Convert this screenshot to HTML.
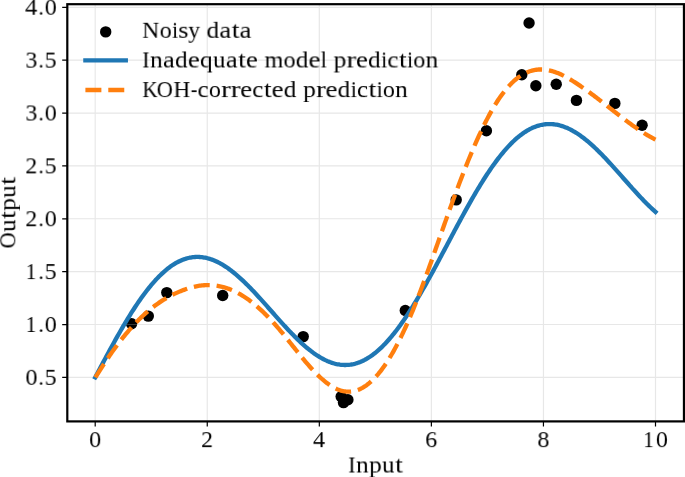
<!DOCTYPE html>
<html><head><meta charset="utf-8"><style>
html,body{margin:0;padding:0;background:#fff;}
body{width:685px;height:477px;overflow:hidden;font-family:"Liberation Serif",serif;}
svg{display:block;}
text{will-change:transform;}
</style></head><body>
<svg width="685" height="477" viewBox="0 0 685 477">
<rect x="0" y="0" width="685" height="477" fill="#ffffff"/>
<circle cx="131.57" cy="323.77" r="5.7" fill="#000"/>
<circle cx="148.30" cy="316.10" r="5.7" fill="#000"/>
<circle cx="166.80" cy="292.60" r="5.7" fill="#000"/>
<circle cx="222.70" cy="295.45" r="5.7" fill="#000"/>
<circle cx="303.20" cy="336.60" r="5.7" fill="#000"/>
<circle cx="341.20" cy="396.60" r="5.7" fill="#000"/>
<circle cx="347.90" cy="399.80" r="5.7" fill="#000"/>
<circle cx="343.50" cy="402.60" r="5.7" fill="#000"/>
<circle cx="405.30" cy="310.50" r="5.7" fill="#000"/>
<circle cx="456.20" cy="199.85" r="5.7" fill="#000"/>
<circle cx="486.40" cy="130.80" r="5.7" fill="#000"/>
<circle cx="521.80" cy="74.75" r="5.7" fill="#000"/>
<circle cx="529.07" cy="22.97" r="5.7" fill="#000"/>
<circle cx="535.85" cy="85.70" r="5.7" fill="#000"/>
<circle cx="556.25" cy="84.20" r="5.7" fill="#000"/>
<circle cx="576.45" cy="100.40" r="5.7" fill="#000"/>
<circle cx="614.85" cy="103.40" r="5.7" fill="#000"/>
<circle cx="642.10" cy="125.30" r="5.7" fill="#000"/>
<path d="M95.20 4.20V421.40M207.26 4.20V421.40M319.32 4.20V421.40M431.38 4.20V421.40M543.44 4.20V421.40M655.50 4.20V421.40M67.30 377.40H683.95M67.30 324.53H683.95M67.30 271.66H683.95M67.30 218.79H683.95M67.30 165.92H683.95M67.30 113.05H683.95M67.30 60.18H683.95M67.30 7.31H683.95" stroke="#b0b0b0" stroke-opacity="0.3" stroke-width="1.15" fill="none"/>
<path d="M95.20 377.40 L96.32 375.28 L97.45 373.16 L98.57 371.05 L99.69 368.93 L100.81 366.82 L101.94 364.71 L103.06 362.61 L104.18 360.51 L105.31 358.41 L106.43 356.32 L107.55 354.24 L108.67 352.17 L109.80 350.10 L110.92 348.04 L112.04 346.00 L113.17 343.96 L114.29 341.93 L115.41 339.91 L116.53 337.91 L117.66 335.92 L118.78 333.94 L119.90 331.98 L121.03 330.03 L122.15 328.09 L123.27 326.17 L124.39 324.27 L125.52 322.39 L126.64 320.52 L127.76 318.67 L128.89 316.84 L130.01 315.03 L131.13 313.23 L132.25 311.46 L133.38 309.71 L134.50 307.98 L135.62 306.27 L136.75 304.59 L137.87 302.92 L138.99 301.29 L140.11 299.67 L141.24 298.08 L142.36 296.51 L143.48 294.97 L144.61 293.46 L145.73 291.97 L146.85 290.51 L147.97 289.07 L149.10 287.67 L150.22 286.29 L151.34 284.94 L152.47 283.61 L153.59 282.32 L154.71 281.06 L155.83 279.82 L156.96 278.62 L158.08 277.44 L159.20 276.30 L160.33 275.19 L161.45 274.11 L162.57 273.06 L163.69 272.04 L164.82 271.05 L165.94 270.10 L167.06 269.17 L168.18 268.28 L169.31 267.43 L170.43 266.60 L171.55 265.81 L172.68 265.06 L173.80 264.33 L174.92 263.64 L176.04 262.98 L177.17 262.36 L178.29 261.77 L179.41 261.22 L180.54 260.70 L181.66 260.21 L182.78 259.75 L183.90 259.33 L185.03 258.95 L186.15 258.60 L187.27 258.28 L188.40 257.99 L189.52 257.74 L190.64 257.53 L191.76 257.34 L192.89 257.19 L194.01 257.08 L195.13 257.00 L196.26 256.95 L197.38 256.93 L198.50 256.95 L199.62 257.00 L200.75 257.08 L201.87 257.19 L202.99 257.34 L204.12 257.52 L205.24 257.73 L206.36 257.97 L207.48 258.24 L208.61 258.54 L209.73 258.88 L210.85 259.24 L211.98 259.64 L213.10 260.06 L214.22 260.51 L215.34 260.99 L216.47 261.50 L217.59 262.04 L218.71 262.61 L219.84 263.20 L220.96 263.82 L222.08 264.47 L223.20 265.14 L224.33 265.84 L225.45 266.57 L226.57 267.31 L227.70 268.09 L228.82 268.88 L229.94 269.70 L231.06 270.55 L232.19 271.41 L233.31 272.30 L234.43 273.21 L235.56 274.14 L236.68 275.09 L237.80 276.06 L238.92 277.04 L240.05 278.05 L241.17 279.08 L242.29 280.12 L243.42 281.18 L244.54 282.25 L245.66 283.34 L246.78 284.45 L247.91 285.57 L249.03 286.70 L250.15 287.85 L251.28 289.01 L252.40 290.18 L253.52 291.36 L254.64 292.55 L255.77 293.75 L256.89 294.97 L258.01 296.19 L259.14 297.42 L260.26 298.65 L261.38 299.89 L262.50 301.14 L263.63 302.39 L264.75 303.65 L265.87 304.91 L267.00 306.18 L268.12 307.45 L269.24 308.72 L270.36 309.99 L271.49 311.26 L272.61 312.53 L273.73 313.80 L274.86 315.07 L275.98 316.34 L277.10 317.60 L278.22 318.86 L279.35 320.12 L280.47 321.37 L281.59 322.61 L282.72 323.85 L283.84 325.08 L284.96 326.31 L286.08 327.53 L287.21 328.73 L288.33 329.93 L289.45 331.12 L290.58 332.30 L291.70 333.46 L292.82 334.62 L293.94 335.76 L295.07 336.88 L296.19 338.00 L297.31 339.09 L298.44 340.18 L299.56 341.25 L300.68 342.30 L301.80 343.33 L302.93 344.35 L304.05 345.34 L305.17 346.32 L306.29 347.28 L307.42 348.22 L308.54 349.14 L309.66 350.04 L310.79 350.92 L311.91 351.77 L313.03 352.61 L314.15 353.42 L315.28 354.20 L316.40 354.96 L317.52 355.70 L318.65 356.41 L319.77 357.10 L320.89 357.76 L322.01 358.39 L323.14 359.00 L324.26 359.58 L325.38 360.14 L326.51 360.66 L327.63 361.16 L328.75 361.63 L329.87 362.07 L331.00 362.48 L332.12 362.86 L333.24 363.20 L334.37 363.52 L335.49 363.81 L336.61 364.07 L337.73 364.30 L338.86 364.49 L339.98 364.66 L341.10 364.79 L342.23 364.89 L343.35 364.95 L344.47 364.99 L345.59 364.99 L346.72 364.96 L347.84 364.89 L348.96 364.79 L350.09 364.66 L351.21 364.50 L352.33 364.30 L353.45 364.07 L354.58 363.80 L355.70 363.50 L356.82 363.17 L357.95 362.80 L359.07 362.40 L360.19 361.96 L361.31 361.49 L362.44 360.99 L363.56 360.45 L364.68 359.88 L365.81 359.27 L366.93 358.63 L368.05 357.96 L369.17 357.26 L370.30 356.52 L371.42 355.74 L372.54 354.94 L373.67 354.10 L374.79 353.23 L375.91 352.32 L377.03 351.38 L378.16 350.41 L379.28 349.41 L380.40 348.38 L381.53 347.31 L382.65 346.22 L383.77 345.09 L384.89 343.93 L386.02 342.74 L387.14 341.53 L388.26 340.28 L389.39 339.00 L390.51 337.69 L391.63 336.36 L392.75 334.99 L393.88 333.60 L395.00 332.18 L396.12 330.73 L397.25 329.26 L398.37 327.76 L399.49 326.23 L400.61 324.68 L401.74 323.10 L402.86 321.50 L403.98 319.87 L405.11 318.22 L406.23 316.55 L407.35 314.85 L408.47 313.13 L409.60 311.39 L410.72 309.63 L411.84 307.85 L412.97 306.05 L414.09 304.23 L415.21 302.39 L416.33 300.53 L417.46 298.65 L418.58 296.76 L419.70 294.85 L420.83 292.92 L421.95 290.98 L423.07 289.03 L424.19 287.06 L425.32 285.07 L426.44 283.07 L427.56 281.06 L428.69 279.04 L429.81 277.01 L430.93 274.97 L432.05 272.92 L433.18 270.85 L434.30 268.78 L435.42 266.71 L436.55 264.62 L437.67 262.53 L438.79 260.43 L439.91 258.33 L441.04 256.22 L442.16 254.11 L443.28 252.00 L444.41 249.88 L445.53 247.77 L446.65 245.65 L447.77 243.53 L448.90 241.41 L450.02 239.29 L451.14 237.18 L452.26 235.06 L453.39 232.95 L454.51 230.85 L455.63 228.74 L456.76 226.65 L457.88 224.55 L459.00 222.47 L460.12 220.39 L461.25 218.32 L462.37 216.26 L463.49 214.20 L464.62 212.16 L465.74 210.13 L466.86 208.11 L467.98 206.10 L469.11 204.10 L470.23 202.11 L471.35 200.14 L472.48 198.18 L473.60 196.24 L474.72 194.31 L475.84 192.40 L476.97 190.51 L478.09 188.63 L479.21 186.77 L480.34 184.93 L481.46 183.11 L482.58 181.31 L483.70 179.52 L484.83 177.76 L485.95 176.02 L487.07 174.30 L488.20 172.60 L489.32 170.93 L490.44 169.28 L491.56 167.65 L492.69 166.04 L493.81 164.47 L494.93 162.91 L496.06 161.38 L497.18 159.88 L498.30 158.40 L499.42 156.96 L500.55 155.53 L501.67 154.14 L502.79 152.77 L503.92 151.44 L505.04 150.13 L506.16 148.85 L507.28 147.60 L508.41 146.38 L509.53 145.19 L510.65 144.03 L511.78 142.90 L512.90 141.80 L514.02 140.73 L515.14 139.70 L516.27 138.69 L517.39 137.72 L518.51 136.78 L519.64 135.88 L520.76 135.00 L521.88 134.16 L523.00 133.35 L524.13 132.58 L525.25 131.84 L526.37 131.13 L527.50 130.45 L528.62 129.81 L529.74 129.20 L530.86 128.63 L531.99 128.09 L533.11 127.59 L534.23 127.11 L535.36 126.68 L536.48 126.27 L537.60 125.90 L538.72 125.57 L539.85 125.26 L540.97 125.00 L542.09 124.76 L543.22 124.56 L544.34 124.39 L545.46 124.26 L546.58 124.16 L547.71 124.09 L548.83 124.06 L549.95 124.06 L551.08 124.09 L552.20 124.15 L553.32 124.25 L554.44 124.38 L555.57 124.54 L556.69 124.74 L557.81 124.96 L558.94 125.22 L560.06 125.50 L561.18 125.82 L562.30 126.17 L563.43 126.55 L564.55 126.95 L565.67 127.39 L566.80 127.86 L567.92 128.35 L569.04 128.88 L570.16 129.43 L571.29 130.01 L572.41 130.61 L573.53 131.25 L574.66 131.91 L575.78 132.59 L576.90 133.30 L578.02 134.04 L579.15 134.80 L580.27 135.58 L581.39 136.39 L582.52 137.22 L583.64 138.07 L584.76 138.95 L585.88 139.85 L587.01 140.77 L588.13 141.70 L589.25 142.66 L590.37 143.64 L591.50 144.64 L592.62 145.65 L593.74 146.69 L594.87 147.74 L595.99 148.80 L597.11 149.88 L598.23 150.98 L599.36 152.09 L600.48 153.22 L601.60 154.36 L602.73 155.51 L603.85 156.68 L604.97 157.85 L606.09 159.04 L607.22 160.24 L608.34 161.45 L609.46 162.66 L610.59 163.89 L611.71 165.12 L612.83 166.36 L613.95 167.60 L615.08 168.85 L616.20 170.11 L617.32 171.37 L618.45 172.63 L619.57 173.90 L620.69 175.17 L621.81 176.44 L622.94 177.71 L624.06 178.98 L625.18 180.25 L626.31 181.52 L627.43 182.79 L628.55 184.05 L629.67 185.32 L630.80 186.57 L631.92 187.83 L633.04 189.08 L634.17 190.32 L635.29 191.55 L636.41 192.78 L637.53 194.00 L638.66 195.22 L639.78 196.42 L640.90 197.61 L642.03 198.80 L643.15 199.97 L644.27 201.13 L645.39 202.28 L646.52 203.41 L647.64 204.53 L648.76 205.64 L649.89 206.73 L651.01 207.80 L652.13 208.86 L653.25 209.91 L654.38 210.93 L655.50 211.94" stroke="#1f77b4" stroke-width="4.319" fill="none" stroke-linecap="square" stroke-linejoin="round"/>
<path d="M95.20 377.78 L96.32 375.95 L97.45 374.15 L98.57 372.36 L99.69 370.58 L100.81 368.82 L101.94 367.08 L103.06 365.35 L104.18 363.64 L105.31 361.95 L106.43 360.27 L107.55 358.61 L108.67 356.96 L109.80 355.34 L110.92 353.73 L112.04 352.13 L113.17 350.56 L114.29 349.00 L115.41 347.46 L116.53 345.94 L117.66 344.44 L118.78 342.96 L119.90 341.49 L121.03 340.04 L122.15 338.62 L123.27 337.21 L124.39 335.82 L125.52 334.45 L126.64 333.10 L127.76 331.77 L128.89 330.46 L130.01 329.17 L131.13 327.90 L132.25 326.65 L133.38 325.41 L134.50 324.20 L135.62 323.01 L136.75 321.84 L137.87 320.69 L138.99 319.56 L140.11 318.45 L141.24 317.36 L142.36 316.29 L143.48 315.24 L144.61 314.21 L145.73 313.20 L146.85 312.21 L147.97 311.24 L149.10 310.29 L150.22 309.36 L151.34 308.45 L152.47 307.56 L153.59 306.69 L154.71 305.84 L155.83 305.01 L156.96 304.20 L158.08 303.40 L159.20 302.63 L160.33 301.87 L161.45 301.14 L162.57 300.42 L163.69 299.71 L164.82 299.03 L165.94 298.37 L167.06 297.72 L168.18 297.09 L169.31 296.47 L170.43 295.87 L171.55 295.29 L172.68 294.72 L173.80 294.17 L174.92 293.64 L176.04 293.12 L177.17 292.61 L178.29 292.12 L179.41 291.64 L180.54 291.17 L181.66 290.72 L182.78 290.28 L183.90 289.86 L185.03 289.45 L186.15 289.06 L187.27 288.68 L188.40 288.32 L189.52 287.98 L190.64 287.66 L191.76 287.35 L192.89 287.06 L194.01 286.79 L195.13 286.54 L196.26 286.31 L197.38 286.09 L198.50 285.90 L199.62 285.73 L200.75 285.57 L201.87 285.44 L202.99 285.33 L204.12 285.24 L205.24 285.17 L206.36 285.12 L207.48 285.09 L208.61 285.09 L209.73 285.11 L210.85 285.15 L211.98 285.21 L213.10 285.29 L214.22 285.40 L215.34 285.53 L216.47 285.68 L217.59 285.86 L218.71 286.06 L219.84 286.28 L220.96 286.52 L222.08 286.79 L223.20 287.08 L224.33 287.39 L225.45 287.73 L226.57 288.09 L227.70 288.48 L228.82 288.88 L229.94 289.31 L231.06 289.77 L232.19 290.24 L233.31 290.74 L234.43 291.27 L235.56 291.81 L236.68 292.38 L237.80 292.97 L238.92 293.58 L240.05 294.22 L241.17 294.88 L242.29 295.56 L243.42 296.26 L244.54 296.99 L245.66 297.73 L246.78 298.50 L247.91 299.29 L249.03 300.10 L250.15 300.94 L251.28 301.79 L252.40 302.67 L253.52 303.56 L254.64 304.48 L255.77 305.41 L256.89 306.37 L258.01 307.35 L259.14 308.35 L260.26 309.36 L261.38 310.40 L262.50 311.45 L263.63 312.53 L264.75 313.62 L265.87 314.73 L267.00 315.86 L268.12 317.01 L269.24 318.18 L270.36 319.36 L271.49 320.56 L272.61 321.78 L273.73 323.02 L274.86 324.27 L275.98 325.54 L277.10 326.82 L278.22 328.13 L279.35 329.44 L280.47 330.78 L281.59 332.12 L282.72 333.48 L283.84 334.85 L284.96 336.23 L286.08 337.62 L287.21 339.02 L288.33 340.42 L289.45 341.82 L290.58 343.23 L291.70 344.64 L292.82 346.05 L293.94 347.46 L295.07 348.87 L296.19 350.28 L297.31 351.68 L298.44 353.08 L299.56 354.47 L300.68 355.85 L301.80 357.22 L302.93 358.58 L304.05 359.93 L305.17 361.27 L306.29 362.59 L307.42 363.90 L308.54 365.19 L309.66 366.47 L310.79 367.72 L311.91 368.96 L313.03 370.17 L314.15 371.37 L315.28 372.54 L316.40 373.68 L317.52 374.80 L318.65 375.89 L319.77 376.96 L320.89 377.99 L322.01 379.00 L323.14 379.98 L324.26 380.92 L325.38 381.83 L326.51 382.71 L327.63 383.55 L328.75 384.36 L329.87 385.13 L331.00 385.86 L332.12 386.55 L333.24 387.20 L334.37 387.81 L335.49 388.38 L336.61 388.91 L337.73 389.39 L338.86 389.83 L339.98 390.23 L341.10 390.57 L342.23 390.87 L343.35 391.13 L344.47 391.33 L345.59 391.48 L346.72 391.59 L347.84 391.65 L348.96 391.65 L350.09 391.61 L351.21 391.52 L352.33 391.37 L353.45 391.18 L354.58 390.93 L355.70 390.64 L356.82 390.29 L357.95 389.90 L359.07 389.45 L360.19 388.95 L361.31 388.40 L362.44 387.80 L363.56 387.15 L364.68 386.45 L365.81 385.69 L366.93 384.89 L368.05 384.03 L369.17 383.13 L370.30 382.17 L371.42 381.16 L372.54 380.10 L373.67 379.00 L374.79 377.84 L375.91 376.63 L377.03 375.37 L378.16 374.06 L379.28 372.70 L380.40 371.29 L381.53 369.83 L382.65 368.32 L383.77 366.76 L384.89 365.16 L386.02 363.50 L387.14 361.80 L388.26 360.05 L389.39 358.25 L390.51 356.40 L391.63 354.51 L392.75 352.57 L393.88 350.58 L395.00 348.55 L396.12 346.47 L397.25 344.35 L398.37 342.18 L399.49 339.96 L400.61 337.70 L401.74 335.40 L402.86 333.05 L403.98 330.66 L405.11 328.23 L406.23 325.76 L407.35 323.24 L408.47 320.68 L409.60 318.08 L410.72 315.45 L411.84 312.77 L412.97 310.05 L414.09 307.29 L415.21 304.50 L416.33 301.67 L417.46 298.80 L418.58 295.91 L419.70 292.98 L420.83 290.02 L421.95 287.04 L423.07 284.03 L424.19 281.00 L425.32 277.94 L426.44 274.87 L427.56 271.77 L428.69 268.66 L429.81 265.54 L430.93 262.40 L432.05 259.24 L433.18 256.08 L434.30 252.91 L435.42 249.73 L436.55 246.55 L437.67 243.36 L438.79 240.18 L439.91 236.99 L441.04 233.80 L442.16 230.62 L443.28 227.45 L444.41 224.28 L445.53 221.12 L446.65 217.97 L447.77 214.83 L448.90 211.70 L450.02 208.59 L451.14 205.49 L452.26 202.41 L453.39 199.34 L454.51 196.29 L455.63 193.25 L456.76 190.24 L457.88 187.24 L459.00 184.26 L460.12 181.31 L461.25 178.38 L462.37 175.47 L463.49 172.58 L464.62 169.72 L465.74 166.89 L466.86 164.08 L467.98 161.30 L469.11 158.55 L470.23 155.83 L471.35 153.14 L472.48 150.48 L473.60 147.85 L474.72 145.26 L475.84 142.69 L476.97 140.17 L478.09 137.68 L479.21 135.22 L480.34 132.80 L481.46 130.42 L482.58 128.08 L483.70 125.78 L484.83 123.52 L485.95 121.30 L487.07 119.12 L488.20 116.98 L489.32 114.89 L490.44 112.84 L491.56 110.84 L492.69 108.88 L493.81 106.97 L494.93 105.11 L496.06 103.29 L497.18 101.52 L498.30 99.80 L499.42 98.13 L500.55 96.52 L501.67 94.95 L502.79 93.43 L503.92 91.96 L505.04 90.54 L506.16 89.17 L507.28 87.85 L508.41 86.58 L509.53 85.36 L510.65 84.18 L511.78 83.06 L512.90 81.98 L514.02 80.95 L515.14 79.97 L516.27 79.03 L517.39 78.14 L518.51 77.30 L519.64 76.50 L520.76 75.75 L521.88 75.04 L523.00 74.37 L524.13 73.76 L525.25 73.18 L526.37 72.65 L527.50 72.16 L528.62 71.71 L529.74 71.31 L530.86 70.95 L531.99 70.62 L533.11 70.34 L534.23 70.10 L535.36 69.90 L536.48 69.73 L537.60 69.61 L538.72 69.52 L539.85 69.47 L540.97 69.45 L542.09 69.47 L543.22 69.52 L544.34 69.61 L545.46 69.74 L546.58 69.89 L547.71 70.08 L548.83 70.30 L549.95 70.55 L551.08 70.83 L552.20 71.14 L553.32 71.48 L554.44 71.84 L555.57 72.23 L556.69 72.65 L557.81 73.10 L558.94 73.56 L560.06 74.05 L561.18 74.57 L562.30 75.11 L563.43 75.66 L564.55 76.24 L565.67 76.83 L566.80 77.45 L567.92 78.08 L569.04 78.73 L570.16 79.39 L571.29 80.07 L572.41 80.76 L573.53 81.46 L574.66 82.18 L575.78 82.90 L576.90 83.64 L578.02 84.38 L579.15 85.13 L580.27 85.89 L581.39 86.66 L582.52 87.44 L583.64 88.22 L584.76 89.01 L585.88 89.81 L587.01 90.62 L588.13 91.43 L589.25 92.25 L590.37 93.07 L591.50 93.91 L592.62 94.74 L593.74 95.58 L594.87 96.43 L595.99 97.28 L597.11 98.14 L598.23 99.00 L599.36 99.86 L600.48 100.73 L601.60 101.60 L602.73 102.48 L603.85 103.35 L604.97 104.23 L606.09 105.11 L607.22 105.99 L608.34 106.87 L609.46 107.75 L610.59 108.64 L611.71 109.52 L612.83 110.40 L613.95 111.28 L615.08 112.16 L616.20 113.04 L617.32 113.92 L618.45 114.79 L619.57 115.66 L620.69 116.53 L621.81 117.39 L622.94 118.25 L624.06 119.10 L625.18 119.95 L626.31 120.80 L627.43 121.64 L628.55 122.47 L629.67 123.29 L630.80 124.11 L631.92 124.92 L633.04 125.73 L634.17 126.53 L635.29 127.31 L636.41 128.09 L637.53 128.86 L638.66 129.62 L639.78 130.37 L640.90 131.11 L642.03 131.84 L643.15 132.56 L644.27 133.26 L645.39 133.96 L646.52 134.64 L647.64 135.31 L648.76 135.97 L649.89 136.61 L651.01 137.24 L652.13 137.86 L653.25 138.46 L654.38 139.05 L655.50 139.63" stroke="#ff7f0e" stroke-width="4.319" fill="none" stroke-dasharray="15.979 6.91" stroke-dashoffset="-0.4" stroke-linecap="butt" stroke-linejoin="round"/>
<path d="M95.20 421.40V426.50M207.26 421.40V426.50M319.32 421.40V426.50M431.38 421.40V426.50M543.44 421.40V426.50M655.50 421.40V426.50M67.30 377.40H62.20M67.30 324.53H62.20M67.30 271.66H62.20M67.30 218.79H62.20M67.30 165.92H62.20M67.30 113.05H62.20M67.30 60.18H62.20M67.30 7.31H62.20" stroke="#000" stroke-width="1.2" fill="none"/>
<rect x="67.30" y="4.20" width="616.65" height="417.20" fill="none" stroke="#000" stroke-width="2.2" stroke-linejoin="miter"/>
<g transform="translate(25.49,384.85) skewX(0.001)"><text x="0" y="0" font-family="Liberation Serif" font-size="22.5" textLength="12.01" lengthAdjust="spacingAndGlyphs">0</text></g>
<g transform="translate(38.37,384.85) skewX(0.001)"><text x="0" y="0" font-family="Liberation Serif" font-size="22.5" textLength="5.55" lengthAdjust="spacingAndGlyphs">.</text></g>
<g transform="translate(44.68,384.85) skewX(0.001)"><text x="0" y="0" font-family="Liberation Serif" font-size="22.5" textLength="11.89" lengthAdjust="spacingAndGlyphs">5</text></g>
<g transform="translate(25.66,331.98) skewX(0.001)"><text x="0" y="0" font-family="Liberation Serif" font-size="22.5" textLength="10.67" lengthAdjust="spacingAndGlyphs">1</text></g>
<g transform="translate(38.37,331.98) skewX(0.001)"><text x="0" y="0" font-family="Liberation Serif" font-size="22.5" textLength="5.55" lengthAdjust="spacingAndGlyphs">.</text></g>
<g transform="translate(44.76,331.98) skewX(0.001)"><text x="0" y="0" font-family="Liberation Serif" font-size="22.5" textLength="12.01" lengthAdjust="spacingAndGlyphs">0</text></g>
<g transform="translate(25.66,279.11) skewX(0.001)"><text x="0" y="0" font-family="Liberation Serif" font-size="22.5" textLength="10.67" lengthAdjust="spacingAndGlyphs">1</text></g>
<g transform="translate(38.37,279.11) skewX(0.001)"><text x="0" y="0" font-family="Liberation Serif" font-size="22.5" textLength="5.55" lengthAdjust="spacingAndGlyphs">.</text></g>
<g transform="translate(44.68,279.11) skewX(0.001)"><text x="0" y="0" font-family="Liberation Serif" font-size="22.5" textLength="11.89" lengthAdjust="spacingAndGlyphs">5</text></g>
<g transform="translate(25.41,226.24) skewX(0.001)"><text x="0" y="0" font-family="Liberation Serif" font-size="22.5" textLength="11.85" lengthAdjust="spacingAndGlyphs">2</text></g>
<g transform="translate(38.37,226.24) skewX(0.001)"><text x="0" y="0" font-family="Liberation Serif" font-size="22.5" textLength="5.55" lengthAdjust="spacingAndGlyphs">.</text></g>
<g transform="translate(44.76,226.24) skewX(0.001)"><text x="0" y="0" font-family="Liberation Serif" font-size="22.5" textLength="12.01" lengthAdjust="spacingAndGlyphs">0</text></g>
<g transform="translate(25.41,173.37) skewX(0.001)"><text x="0" y="0" font-family="Liberation Serif" font-size="22.5" textLength="11.85" lengthAdjust="spacingAndGlyphs">2</text></g>
<g transform="translate(38.37,173.37) skewX(0.001)"><text x="0" y="0" font-family="Liberation Serif" font-size="22.5" textLength="5.55" lengthAdjust="spacingAndGlyphs">.</text></g>
<g transform="translate(44.68,173.37) skewX(0.001)"><text x="0" y="0" font-family="Liberation Serif" font-size="22.5" textLength="11.89" lengthAdjust="spacingAndGlyphs">5</text></g>
<g transform="translate(25.48,120.50) skewX(0.001)"><text x="0" y="0" font-family="Liberation Serif" font-size="22.5" textLength="11.88" lengthAdjust="spacingAndGlyphs">3</text></g>
<g transform="translate(38.37,120.50) skewX(0.001)"><text x="0" y="0" font-family="Liberation Serif" font-size="22.5" textLength="5.55" lengthAdjust="spacingAndGlyphs">.</text></g>
<g transform="translate(44.76,120.50) skewX(0.001)"><text x="0" y="0" font-family="Liberation Serif" font-size="22.5" textLength="12.01" lengthAdjust="spacingAndGlyphs">0</text></g>
<g transform="translate(25.48,67.63) skewX(0.001)"><text x="0" y="0" font-family="Liberation Serif" font-size="22.5" textLength="11.88" lengthAdjust="spacingAndGlyphs">3</text></g>
<g transform="translate(38.37,67.63) skewX(0.001)"><text x="0" y="0" font-family="Liberation Serif" font-size="22.5" textLength="5.55" lengthAdjust="spacingAndGlyphs">.</text></g>
<g transform="translate(44.68,67.63) skewX(0.001)"><text x="0" y="0" font-family="Liberation Serif" font-size="22.5" textLength="11.89" lengthAdjust="spacingAndGlyphs">5</text></g>
<g transform="translate(25.23,14.76) skewX(0.001)"><text x="0" y="0" font-family="Liberation Serif" font-size="22.5" textLength="12.06" lengthAdjust="spacingAndGlyphs">4</text></g>
<g transform="translate(38.37,14.76) skewX(0.001)"><text x="0" y="0" font-family="Liberation Serif" font-size="22.5" textLength="5.55" lengthAdjust="spacingAndGlyphs">.</text></g>
<g transform="translate(44.76,14.76) skewX(0.001)"><text x="0" y="0" font-family="Liberation Serif" font-size="22.5" textLength="12.01" lengthAdjust="spacingAndGlyphs">0</text></g>
<g transform="translate(89.19,447.15) skewX(0.001)"><text x="0" y="0" font-family="Liberation Serif" font-size="22.5" textLength="12.01" lengthAdjust="spacingAndGlyphs">0</text></g>
<g transform="translate(201.16,447.15) skewX(0.001)"><text x="0" y="0" font-family="Liberation Serif" font-size="22.5" textLength="11.85" lengthAdjust="spacingAndGlyphs">2</text></g>
<g transform="translate(313.04,447.15) skewX(0.001)"><text x="0" y="0" font-family="Liberation Serif" font-size="22.5" textLength="12.06" lengthAdjust="spacingAndGlyphs">4</text></g>
<g transform="translate(425.28,447.15) skewX(0.001)"><text x="0" y="0" font-family="Liberation Serif" font-size="22.5" textLength="11.97" lengthAdjust="spacingAndGlyphs">6</text></g>
<g transform="translate(537.45,447.15) skewX(0.001)"><text x="0" y="0" font-family="Liberation Serif" font-size="22.5" textLength="11.96" lengthAdjust="spacingAndGlyphs">8</text></g>
<g transform="translate(643.24,447.15) skewX(0.001)"><text x="0" y="0" font-family="Liberation Serif" font-size="22.5" textLength="10.67" lengthAdjust="spacingAndGlyphs">1</text></g>
<g transform="translate(655.92,447.15) skewX(0.001)"><text x="0" y="0" font-family="Liberation Serif" font-size="22.5" textLength="12.01" lengthAdjust="spacingAndGlyphs">0</text></g>
<g transform="translate(348.25,472.50) skewX(0.001)"><text x="0" y="0" font-family="Liberation Serif" font-size="22.5" textLength="7.32" lengthAdjust="spacingAndGlyphs">I</text></g>
<g transform="translate(356.05,472.50) skewX(0.001)"><text x="0" y="0" font-family="Liberation Serif" font-size="22.5" textLength="12.68" lengthAdjust="spacingAndGlyphs">n</text></g>
<g transform="translate(369.09,472.50) skewX(0.001)"><text x="0" y="0" font-family="Liberation Serif" font-size="22.5" textLength="12.74" lengthAdjust="spacingAndGlyphs">p</text></g>
<g transform="translate(382.06,472.50) skewX(0.001)"><text x="0" y="0" font-family="Liberation Serif" font-size="22.5" textLength="12.47" lengthAdjust="spacingAndGlyphs">u</text></g>
<g transform="translate(395.16,472.50) skewX(0.001)"><text x="0" y="0" font-family="Liberation Serif" font-size="22.5" textLength="7.82" lengthAdjust="spacingAndGlyphs">t</text></g>
<g transform="translate(15.30,212.80) rotate(-90)"><g transform="translate(-35.65,0.00) skewX(0.001)"><text x="0" y="0" font-family="Liberation Serif" font-size="22.5" textLength="16.13" lengthAdjust="spacingAndGlyphs">O</text></g><g transform="translate(-19.10,0.00) skewX(0.001)"><text x="0" y="0" font-family="Liberation Serif" font-size="22.5" textLength="12.47" lengthAdjust="spacingAndGlyphs">u</text></g><g transform="translate(-6.00,0.00) skewX(0.001)"><text x="0" y="0" font-family="Liberation Serif" font-size="22.5" textLength="7.82" lengthAdjust="spacingAndGlyphs">t</text></g><g transform="translate(1.99,0.00) skewX(0.001)"><text x="0" y="0" font-family="Liberation Serif" font-size="22.5" textLength="12.74" lengthAdjust="spacingAndGlyphs">p</text></g><g transform="translate(14.96,0.00) skewX(0.001)"><text x="0" y="0" font-family="Liberation Serif" font-size="22.5" textLength="12.47" lengthAdjust="spacingAndGlyphs">u</text></g><g transform="translate(28.06,0.00) skewX(0.001)"><text x="0" y="0" font-family="Liberation Serif" font-size="22.5" textLength="7.82" lengthAdjust="spacingAndGlyphs">t</text></g></g>
<circle cx="105.7" cy="31.9" r="5.7" fill="#000"/>
<path d="M85.4 60.42H125.8" stroke="#1f77b4" stroke-width="4.319" stroke-linecap="square"/>
<path d="M85.4 90.0H125.8" stroke="#ff7f0e" stroke-width="4.319" stroke-dasharray="15.979 6.91" stroke-linecap="butt"/>
<g transform="translate(142.26,37.80) skewX(0.001)"><text x="0" y="0" font-family="Liberation Serif" font-size="22.5" textLength="17.02" lengthAdjust="spacingAndGlyphs">N</text></g>
<g transform="translate(159.72,37.80) skewX(0.001)"><text x="0" y="0" font-family="Liberation Serif" font-size="22.5" textLength="11.96" lengthAdjust="spacingAndGlyphs">o</text></g>
<g transform="translate(172.05,37.80) skewX(0.001)"><text x="0" y="0" font-family="Liberation Serif" font-size="22.5" textLength="6.15" lengthAdjust="spacingAndGlyphs">i</text></g>
<g transform="translate(178.30,37.80) skewX(0.001)"><text x="0" y="0" font-family="Liberation Serif" font-size="22.5" textLength="10.22" lengthAdjust="spacingAndGlyphs">s</text></g>
<g transform="translate(188.27,37.80) skewX(0.001)"><text x="0" y="0" font-family="Liberation Serif" font-size="22.5" textLength="11.79" lengthAdjust="spacingAndGlyphs">y</text></g>
<g transform="translate(206.55,37.80) skewX(0.001)"><text x="0" y="0" font-family="Liberation Serif" font-size="22.5" textLength="12.55" lengthAdjust="spacingAndGlyphs">d</text></g>
<g transform="translate(219.45,37.80) skewX(0.001)"><text x="0" y="0" font-family="Liberation Serif" font-size="22.5" textLength="11.76" lengthAdjust="spacingAndGlyphs">a</text></g>
<g transform="translate(231.73,37.80) skewX(0.001)"><text x="0" y="0" font-family="Liberation Serif" font-size="22.5" textLength="7.82" lengthAdjust="spacingAndGlyphs">t</text></g>
<g transform="translate(239.61,37.80) skewX(0.001)"><text x="0" y="0" font-family="Liberation Serif" font-size="22.5" textLength="11.76" lengthAdjust="spacingAndGlyphs">a</text></g>
<g transform="translate(142.27,67.45) skewX(0.001)"><text x="0" y="0" font-family="Liberation Serif" font-size="22.5" textLength="7.32" lengthAdjust="spacingAndGlyphs">I</text></g>
<g transform="translate(150.08,67.45) skewX(0.001)"><text x="0" y="0" font-family="Liberation Serif" font-size="22.5" textLength="12.68" lengthAdjust="spacingAndGlyphs">n</text></g>
<g transform="translate(163.01,67.45) skewX(0.001)"><text x="0" y="0" font-family="Liberation Serif" font-size="22.5" textLength="11.76" lengthAdjust="spacingAndGlyphs">a</text></g>
<g transform="translate(175.08,67.45) skewX(0.001)"><text x="0" y="0" font-family="Liberation Serif" font-size="22.5" textLength="12.55" lengthAdjust="spacingAndGlyphs">d</text></g>
<g transform="translate(187.87,67.45) skewX(0.001)"><text x="0" y="0" font-family="Liberation Serif" font-size="22.5" textLength="11.92" lengthAdjust="spacingAndGlyphs">e</text></g>
<g transform="translate(199.95,67.45) skewX(0.001)"><text x="0" y="0" font-family="Liberation Serif" font-size="22.5" textLength="12.71" lengthAdjust="spacingAndGlyphs">q</text></g>
<g transform="translate(213.01,67.45) skewX(0.001)"><text x="0" y="0" font-family="Liberation Serif" font-size="22.5" textLength="12.47" lengthAdjust="spacingAndGlyphs">u</text></g>
<g transform="translate(225.88,67.45) skewX(0.001)"><text x="0" y="0" font-family="Liberation Serif" font-size="22.5" textLength="11.76" lengthAdjust="spacingAndGlyphs">a</text></g>
<g transform="translate(238.16,67.45) skewX(0.001)"><text x="0" y="0" font-family="Liberation Serif" font-size="22.5" textLength="7.82" lengthAdjust="spacingAndGlyphs">t</text></g>
<g transform="translate(245.92,67.45) skewX(0.001)"><text x="0" y="0" font-family="Liberation Serif" font-size="22.5" textLength="11.92" lengthAdjust="spacingAndGlyphs">e</text></g>
<g transform="translate(264.57,67.45) skewX(0.001)"><text x="0" y="0" font-family="Liberation Serif" font-size="22.5" textLength="18.76" lengthAdjust="spacingAndGlyphs">m</text></g>
<g transform="translate(283.59,67.45) skewX(0.001)"><text x="0" y="0" font-family="Liberation Serif" font-size="22.5" textLength="11.96" lengthAdjust="spacingAndGlyphs">o</text></g>
<g transform="translate(295.76,67.45) skewX(0.001)"><text x="0" y="0" font-family="Liberation Serif" font-size="22.5" textLength="12.55" lengthAdjust="spacingAndGlyphs">d</text></g>
<g transform="translate(308.55,67.45) skewX(0.001)"><text x="0" y="0" font-family="Liberation Serif" font-size="22.5" textLength="11.92" lengthAdjust="spacingAndGlyphs">e</text></g>
<g transform="translate(320.68,67.45) skewX(0.001)"><text x="0" y="0" font-family="Liberation Serif" font-size="22.5" textLength="6.17" lengthAdjust="spacingAndGlyphs">l</text></g>
<g transform="translate(333.60,67.45) skewX(0.001)"><text x="0" y="0" font-family="Liberation Serif" font-size="22.5" textLength="12.74" lengthAdjust="spacingAndGlyphs">p</text></g>
<g transform="translate(346.50,67.45) skewX(0.001)"><text x="0" y="0" font-family="Liberation Serif" font-size="22.5" textLength="9.77" lengthAdjust="spacingAndGlyphs">r</text></g>
<g transform="translate(355.97,67.45) skewX(0.001)"><text x="0" y="0" font-family="Liberation Serif" font-size="22.5" textLength="11.92" lengthAdjust="spacingAndGlyphs">e</text></g>
<g transform="translate(368.07,67.45) skewX(0.001)"><text x="0" y="0" font-family="Liberation Serif" font-size="22.5" textLength="12.55" lengthAdjust="spacingAndGlyphs">d</text></g>
<g transform="translate(381.16,67.45) skewX(0.001)"><text x="0" y="0" font-family="Liberation Serif" font-size="22.5" textLength="6.15" lengthAdjust="spacingAndGlyphs">i</text></g>
<g transform="translate(387.41,67.45) skewX(0.001)"><text x="0" y="0" font-family="Liberation Serif" font-size="22.5" textLength="11.10" lengthAdjust="spacingAndGlyphs">c</text></g>
<g transform="translate(398.98,67.45) skewX(0.001)"><text x="0" y="0" font-family="Liberation Serif" font-size="22.5" textLength="7.82" lengthAdjust="spacingAndGlyphs">t</text></g>
<g transform="translate(407.05,67.45) skewX(0.001)"><text x="0" y="0" font-family="Liberation Serif" font-size="22.5" textLength="6.15" lengthAdjust="spacingAndGlyphs">i</text></g>
<g transform="translate(413.34,67.45) skewX(0.001)"><text x="0" y="0" font-family="Liberation Serif" font-size="22.5" textLength="11.96" lengthAdjust="spacingAndGlyphs">o</text></g>
<g transform="translate(425.56,67.45) skewX(0.001)"><text x="0" y="0" font-family="Liberation Serif" font-size="22.5" textLength="12.68" lengthAdjust="spacingAndGlyphs">n</text></g>
<g transform="translate(142.46,97.10) skewX(0.001)"><text x="0" y="0" font-family="Liberation Serif" font-size="22.5" textLength="15.10" lengthAdjust="spacingAndGlyphs">K</text></g>
<g transform="translate(156.72,97.10) skewX(0.001)"><text x="0" y="0" font-family="Liberation Serif" font-size="22.5" textLength="16.13" lengthAdjust="spacingAndGlyphs">O</text></g>
<g transform="translate(173.51,97.10) skewX(0.001)"><text x="0" y="0" font-family="Liberation Serif" font-size="22.5" textLength="16.73" lengthAdjust="spacingAndGlyphs">H</text></g>
<g transform="translate(190.84,97.10) skewX(0.001)"><text x="0" y="0" font-family="Liberation Serif" font-size="22.5" textLength="6.47" lengthAdjust="spacingAndGlyphs">-</text></g>
<g transform="translate(197.55,97.10) skewX(0.001)"><text x="0" y="0" font-family="Liberation Serif" font-size="22.5" textLength="11.10" lengthAdjust="spacingAndGlyphs">c</text></g>
<g transform="translate(208.91,97.10) skewX(0.001)"><text x="0" y="0" font-family="Liberation Serif" font-size="22.5" textLength="11.96" lengthAdjust="spacingAndGlyphs">o</text></g>
<g transform="translate(221.12,97.10) skewX(0.001)"><text x="0" y="0" font-family="Liberation Serif" font-size="22.5" textLength="9.77" lengthAdjust="spacingAndGlyphs">r</text></g>
<g transform="translate(230.77,97.10) skewX(0.001)"><text x="0" y="0" font-family="Liberation Serif" font-size="22.5" textLength="9.77" lengthAdjust="spacingAndGlyphs">r</text></g>
<g transform="translate(240.24,97.10) skewX(0.001)"><text x="0" y="0" font-family="Liberation Serif" font-size="22.5" textLength="11.92" lengthAdjust="spacingAndGlyphs">e</text></g>
<g transform="translate(252.29,97.10) skewX(0.001)"><text x="0" y="0" font-family="Liberation Serif" font-size="22.5" textLength="11.10" lengthAdjust="spacingAndGlyphs">c</text></g>
<g transform="translate(263.86,97.10) skewX(0.001)"><text x="0" y="0" font-family="Liberation Serif" font-size="22.5" textLength="7.82" lengthAdjust="spacingAndGlyphs">t</text></g>
<g transform="translate(271.63,97.10) skewX(0.001)"><text x="0" y="0" font-family="Liberation Serif" font-size="22.5" textLength="11.92" lengthAdjust="spacingAndGlyphs">e</text></g>
<g transform="translate(283.73,97.10) skewX(0.001)"><text x="0" y="0" font-family="Liberation Serif" font-size="22.5" textLength="12.55" lengthAdjust="spacingAndGlyphs">d</text></g>
<g transform="translate(303.15,97.10) skewX(0.001)"><text x="0" y="0" font-family="Liberation Serif" font-size="22.5" textLength="12.74" lengthAdjust="spacingAndGlyphs">p</text></g>
<g transform="translate(316.05,97.10) skewX(0.001)"><text x="0" y="0" font-family="Liberation Serif" font-size="22.5" textLength="9.77" lengthAdjust="spacingAndGlyphs">r</text></g>
<g transform="translate(325.52,97.10) skewX(0.001)"><text x="0" y="0" font-family="Liberation Serif" font-size="22.5" textLength="11.92" lengthAdjust="spacingAndGlyphs">e</text></g>
<g transform="translate(337.62,97.10) skewX(0.001)"><text x="0" y="0" font-family="Liberation Serif" font-size="22.5" textLength="12.55" lengthAdjust="spacingAndGlyphs">d</text></g>
<g transform="translate(350.71,97.10) skewX(0.001)"><text x="0" y="0" font-family="Liberation Serif" font-size="22.5" textLength="6.15" lengthAdjust="spacingAndGlyphs">i</text></g>
<g transform="translate(356.96,97.10) skewX(0.001)"><text x="0" y="0" font-family="Liberation Serif" font-size="22.5" textLength="11.10" lengthAdjust="spacingAndGlyphs">c</text></g>
<g transform="translate(368.53,97.10) skewX(0.001)"><text x="0" y="0" font-family="Liberation Serif" font-size="22.5" textLength="7.82" lengthAdjust="spacingAndGlyphs">t</text></g>
<g transform="translate(376.61,97.10) skewX(0.001)"><text x="0" y="0" font-family="Liberation Serif" font-size="22.5" textLength="6.15" lengthAdjust="spacingAndGlyphs">i</text></g>
<g transform="translate(382.90,97.10) skewX(0.001)"><text x="0" y="0" font-family="Liberation Serif" font-size="22.5" textLength="11.96" lengthAdjust="spacingAndGlyphs">o</text></g>
<g transform="translate(395.11,97.10) skewX(0.001)"><text x="0" y="0" font-family="Liberation Serif" font-size="22.5" textLength="12.68" lengthAdjust="spacingAndGlyphs">n</text></g>
</svg>
</body></html>
